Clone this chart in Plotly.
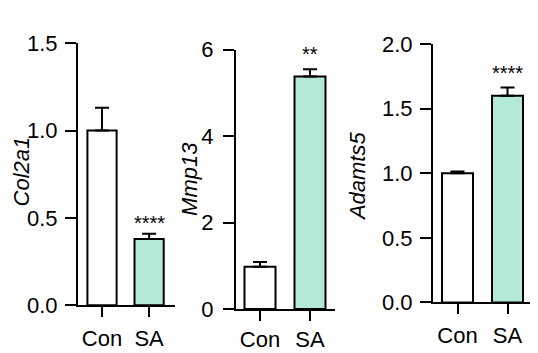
import plotly.graph_objects as go

categories = ["Con", "SA"]

col2a1_mean = [1.0, 0.38]
col2a1_err = [0.13, 0.03]

mmp13_mean = [0.98, 5.38]
mmp13_err = [0.11, 0.17]

adamts5_mean = [1.0, 1.60]
adamts5_err = [0.015, 0.065]

genes = ["Col2a1", "Mmp13", "Adamts5"]
signif = ["****", "**", "****"]
sig_y = [0.47, 5.9, 1.78]

y_ranges = [[0, 1.5], [0, 6], [0, 2]]
y_dticks = [0.5, 2, 0.5]
y_formats = [".1f", "d", ".1f"]

W, H = 538, 353
FONT = "Arial, Liberation Sans, Helvetica, sans-serif"
BAR_COLORS = ["#ffffff", "#b4e8d7"]

# panel geometry in pixels: (x_left, x_right, y_zero, y_top)
panels_px = [(70, 167, 307, 25), (228, 327, 311, 32), (425, 525, 304, 26)]
x_ranges = [[-0.51, 1.55], [-0.48, 1.5], [-0.49, 1.51]]
title_pos = [(13, 163), (182, 171), (349, 168)]
x_standoff = [2, 0, 2]
y_standoff = [3, 5, 3]

means = [col2a1_mean, mmp13_mean, adamts5_mean]
errs = [col2a1_err, mmp13_err, adamts5_err]

fig = go.Figure()
layout = dict(
    width=W, height=H,
    margin=dict(l=0, r=0, t=0, b=0),
    paper_bgcolor="white", plot_bgcolor="white",
    showlegend=False,
    font=dict(family=FONT, color="black", size=22),
    annotations=[],
)

for i in range(3):
    sfx = "" if i == 0 else str(i + 1)
    xa, ya = "x" + sfx, "y" + sfx
    fig.add_trace(go.Bar(
        x=categories, y=means[i],
        xaxis=xa, yaxis=ya,
        width=0.62,
        marker=dict(color=BAR_COLORS, line=dict(color="black", width=2)),
        error_y=dict(type="data", symmetric=False, array=errs[i],
                     arrayminus=[0, 0], color="black", thickness=2, width=7),
    ))
    xl, xr, y0, y1 = panels_px[i]
    layout["xaxis" + sfx] = dict(
        domain=[xl / W, xr / W], anchor=ya, range=x_ranges[i],
        showline=True, linecolor="black", linewidth=2,
        ticks="outside", ticklen=10, tickwidth=2, tickcolor="black",
        showgrid=False, zeroline=False, fixedrange=True,
        tickfont=dict(size=22), ticklabelstandoff=x_standoff[i],
    )
    layout["yaxis" + sfx] = dict(
        domain=[(H - y0) / H, (H - y1) / H], anchor=xa, range=y_ranges[i],
        dtick=y_dticks[i], tick0=0, tickformat=y_formats[i],
        showline=True, linecolor="black", linewidth=2,
        ticks="outside", ticklen=11, tickwidth=2, tickcolor="black",
        showgrid=False, zeroline=False, fixedrange=True,
        tickfont=dict(size=22), ticklabelstandoff=y_standoff[i],
    )
    tx, ty = title_pos[i]
    layout["annotations"].append(dict(
        text="<i>%s</i>" % genes[i], x=tx / W, y=(H - ty) / H,
        xref="paper", yref="paper", xanchor="center", yanchor="middle",
        textangle=-90, showarrow=False, font=dict(size=22), borderpad=0,
    ))
    layout["annotations"].append(dict(
        text=signif[i], x=categories[1], y=sig_y[i],
        xref=xa, yref=ya, xanchor="center", yanchor="middle",
        showarrow=False, font=dict(size=20),
    ))

fig.update_layout(**layout)
fig.write_html("out.html")
